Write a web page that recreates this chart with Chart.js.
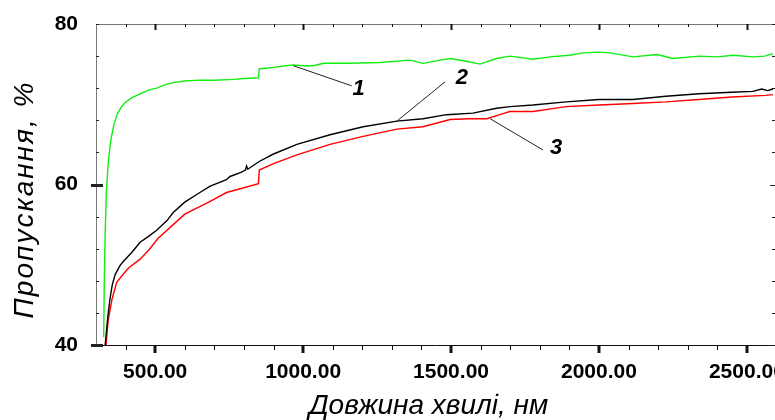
<!DOCTYPE html>
<html>
<head>
<meta charset="utf-8">
<script src="https://cdn.jsdelivr.net/npm/chart.js@4/dist/chart.umd.min.js"></script>
<style>
  html, body { margin: 0; padding: 0; background: #fff; }
</style>
</head>
<body>
<canvas id="chart" width="775" height="420"></canvas>
<script>
// spectra: wavelength (nm) / transmission (%)
var wl1 = [326, 328, 331, 335, 342, 350, 360, 372, 385, 398, 420, 449, 480, 505, 540, 561, 600, 651, 700, 764, 800, 849, 852, 900, 940, 967, 1000, 1034, 1070, 1150, 1260, 1361, 1405, 1450, 1497, 1560, 1598, 1654, 1699, 1777, 1834, 1900, 1946, 2000, 2037, 2115, 2196, 2250, 2341, 2400, 2453, 2520, 2560, 2588];
var t1 = [41.0, 47.8, 54.0, 59.0, 63.0, 65.5, 67.4, 68.8, 69.6, 70.2, 70.8, 71.3, 71.8, 72.0, 72.5, 72.7, 72.9, 73.0, 73.0, 73.1, 73.2, 73.3, 74.4, 74.6, 74.8, 74.9, 74.8, 74.8, 75.1, 75.1, 75.2, 75.5, 75.1, 75.4, 75.7, 75.3, 75.0, 75.7, 76.0, 75.6, 75.9, 76.1, 76.4, 76.5, 76.4, 75.9, 76.2, 75.7, 76.0, 75.9, 76.1, 75.9, 76.0, 76.3];

var wl2 = [331, 336, 340, 347, 355, 365, 381, 392, 420, 449, 480, 505, 540, 561, 600, 651, 686, 741, 753, 790, 805, 809, 813, 853, 900, 979, 1091, 1203, 1317, 1405, 1485, 1574, 1654, 1699, 1777, 1889, 2000, 2115, 2226, 2338, 2449, 2520, 2550, 2570, 2588];
var t2 = [40.0, 42.0, 43.5, 45.7, 47.5, 48.8, 49.9, 50.4, 51.5, 52.8, 53.6, 54.3, 55.5, 56.5, 57.8, 59.0, 59.8, 60.6, 61.0, 61.5, 61.8, 62.3, 61.9, 62.9, 63.8, 65.0, 66.2, 67.2, 67.9, 68.2, 68.7, 68.9, 69.5, 69.7, 69.9, 70.3, 70.6, 70.6, 71.0, 71.3, 71.5, 71.6, 71.9, 71.7, 71.9];

var wl3 = [334, 338, 341, 354, 370, 387, 410, 449, 480, 510, 561, 600, 686, 741, 800, 849, 852, 900, 979, 1091, 1203, 1317, 1405, 1497, 1560, 1621, 1665, 1699, 1777, 1889, 2000, 2115, 2226, 2338, 2449, 2563, 2588];
var t3 = [40.0, 41.8, 43.0, 45.7, 47.8, 48.6, 49.6, 50.7, 51.9, 53.3, 55.0, 56.3, 57.9, 59.0, 59.6, 60.1, 61.8, 62.6, 63.7, 65.0, 66.0, 66.9, 67.2, 68.1, 68.2, 68.2, 68.7, 69.1, 69.1, 69.7, 69.9, 70.1, 70.3, 70.6, 70.9, 71.1, 71.2];

// axes
var xTicks = [400, 500, 600, 700, 800, 900, 1000, 1100, 1200, 1300, 1400, 1500, 1600, 1700, 1800, 1900, 2000, 2100, 2200, 2300, 2400, 2500];
var xLabelled = [500, 1000, 1500, 2000, 2500];
var yTicks = [40, 44, 48, 52, 56, 60, 64, 68, 72, 76, 80];
var yLabelled = [40, 60, 80];
var xTitle = 'Довжина хвилі, нм';
var yTitle = 'Пропускання, %';

// curve numbers with their leader lines (data units)
var annText = ['1', '2', '3'];
var annFromX = [967, 1317, 1632], annFromY = [74.8, 67.9, 68.2];
var annToX = [1164, 1480, 1811], annToY = [72.3, 72.8, 64.3];
var annTextX = [1188, 1537, 1855], annTextY = [71.9, 73.3, 64.6];

var FONT = "'Liberation Sans', Arial, sans-serif";

function pts(xs, ys) {
    return xs.map(function (x, i) { return { x: x, y: ys[i] }; });
}

var framePlugin = {
    id: 'frame',
    beforeDatasetsDraw: function (chart) {
        var ctx = chart.ctx, a = chart.chartArea;
        var xs = chart.scales.x, ys = chart.scales.y;
        ctx.save();
        ctx.lineCap = 'butt';
        // box
        ctx.lineWidth = 1;
        ctx.strokeStyle = '#777';
        ctx.beginPath();
        ctx.moveTo(a.left + 0.5, a.bottom);
        ctx.lineTo(a.left + 0.5, a.top + 0.5);
        ctx.lineTo(a.right, a.top + 0.5);
        ctx.stroke();
        ctx.strokeStyle = '#111';
        ctx.beginPath();
        ctx.moveTo(a.left, a.bottom + 0.5);
        ctx.lineTo(a.right, a.bottom + 0.5);
        ctx.stroke();

        // x ticks: bottom outward, top inward
        xs.ticks.forEach(function (t) {
            var px = Math.round(xs.getPixelForValue(t.value));
            var major = xLabelled.indexOf(t.value) >= 0;
            ctx.strokeStyle = '#111';
            ctx.lineWidth = major ? 3 : 1;
            var off = major ? 0 : 0.5;
            ctx.beginPath();
            ctx.moveTo(px + off, a.bottom);
            ctx.lineTo(px + off, a.bottom + (major ? 8 : 5));
            ctx.stroke();
            ctx.lineWidth = major ? 2 : 1;
            ctx.beginPath();
            ctx.moveTo(px + 0.5, a.top);
            ctx.lineTo(px + 0.5, a.top + (major ? 6 : 3));
            ctx.stroke();
        });
        // y ticks: inward on both sides
        ys.ticks.forEach(function (t) {
            var py = Math.round(ys.getPixelForValue(t.value)) + 0.5;
            var major = yLabelled.indexOf(t.value) >= 0 && t.value !== 80;
            ctx.strokeStyle = '#222';
            ctx.lineWidth = major ? 3 : 1;
            ctx.beginPath();
            ctx.moveTo(a.left - (major ? 5 : 0), py);
            ctx.lineTo(a.left + (major ? 7 : 3), py);
            ctx.stroke();
            ctx.lineWidth = 1;
            ctx.beginPath();
            ctx.moveTo(a.right, py);
            ctx.lineTo(a.right - (major ? 5 : 3), py);
            ctx.stroke();
        });
        ctx.restore();
    },
    afterDraw: function (chart) {
        var ctx = chart.ctx, a = chart.chartArea;
        var xs = chart.scales.x, ys = chart.scales.y;
        ctx.save();
        // leader lines and curve numbers
        ctx.strokeStyle = '#222';
        ctx.lineWidth = 1;
        ctx.fillStyle = '#000';
        ctx.font = 'italic bold 22px ' + FONT;
        ctx.textAlign = 'center';
        ctx.textBaseline = 'middle';
        annText.forEach(function (s, i) {
            ctx.beginPath();
            ctx.moveTo(xs.getPixelForValue(annFromX[i]), ys.getPixelForValue(annFromY[i]));
            ctx.lineTo(xs.getPixelForValue(annToX[i]), ys.getPixelForValue(annToY[i]));
            ctx.stroke();
            ctx.fillText(s, xs.getPixelForValue(annTextX[i]), ys.getPixelForValue(annTextY[i]));
        });
        // axis titles
        ctx.font = 'italic 28px ' + FONT;
        ctx.textBaseline = 'alphabetic';
        ctx.fillText(xTitle, (a.left + a.right) / 2 - 7, a.bottom + 69);
        ctx.translate(a.left - 63, (a.top + a.bottom) / 2 + 15);
        ctx.rotate(-Math.PI / 2);
        ctx.letterSpacing = '2px';
        ctx.fillText(yTitle, 0, 0);
        ctx.restore();
    }
};

var line = function (label, xs, ys, color) {
    return {
        label: label,
        data: pts(xs, ys),
        borderColor: color,
        borderWidth: 1.4,
        pointRadius: 0,
        tension: 0,
        fill: false
    };
};

new Chart(document.getElementById('chart'), {
    type: 'line',
    data: {
        datasets: [
            line('1', wl1, t1, '#11ee11'),
            line('2', wl2, t2, '#000000'),
            line('3', wl3, t3, '#ff0000')
        ]
    },
    options: {
        responsive: false,
        animation: false,
        events: [],
        layout: { padding: { top: 24, right: 0, left: 0, bottom: 0 } },
        plugins: { legend: { display: false }, tooltip: { enabled: false } },
        scales: {
            x: {
                type: 'linear',
                min: 300,
                max: 2595,
                grid: { display: false, drawTicks: false },
                border: { display: false },
                afterBuildTicks: function (scale) {
                    scale.ticks = xTicks.map(function (v) { return { value: v }; });
                },
                afterFit: function (scale) {
                    scale.height = 75;
                    scale.paddingLeft = 0;
                    scale.paddingRight = 0;
                },
                ticks: {
                    autoSkip: false,
                    maxRotation: 0,
                    minRotation: 0,
                    padding: 15,
                    color: '#000',
                    font: { family: FONT, size: 21, weight: 'bold' },
                    callback: function (v) {
                        return xLabelled.indexOf(v) >= 0 ? v.toFixed(2) : '';
                    }
                }
            },
            y: {
                min: 40,
                max: 80,
                grid: { display: false, drawTicks: false },
                border: { display: false },
                afterBuildTicks: function (scale) {
                    scale.ticks = yTicks.map(function (v) { return { value: v }; });
                },
                afterFit: function (scale) {
                    scale.width = 96;
                    scale.paddingTop = 0;
                    scale.paddingBottom = 0;
                },
                ticks: {
                    autoSkip: false,
                    padding: 18,
                    color: '#000',
                    font: { family: FONT, size: 21, weight: 'bold' },
                    callback: function (v) {
                        return yLabelled.indexOf(v) >= 0 ? String(v) : '';
                    }
                }
            }
        }
    },
    plugins: [framePlugin]
});
</script>
</body>
</html>
